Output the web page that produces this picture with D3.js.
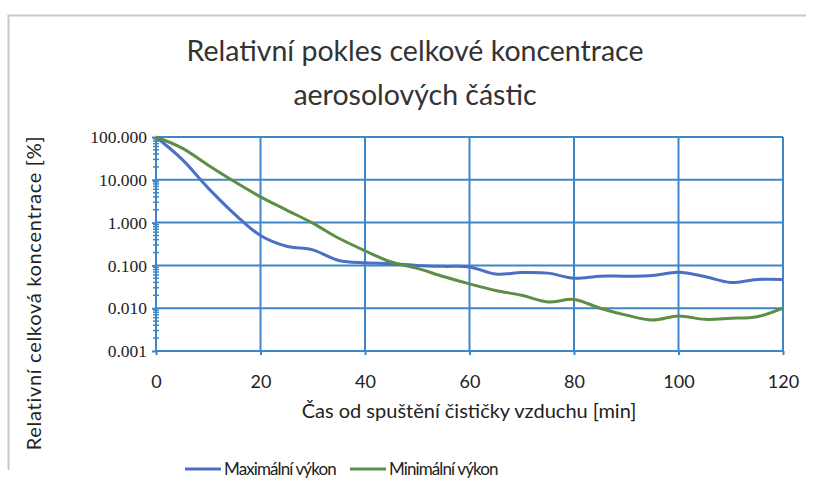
<!DOCTYPE html>
<html>
<head>
<meta charset="utf-8">
<script src="https://cdn.jsdelivr.net/npm/d3@7"></script>
<style>
  body { margin: 0; background: #fff; }
  svg { display: block; }
  .grid line { stroke: #3f86c8; stroke-width: 2; }
  .ytick text { font-family: "Liberation Serif", serif; font-size: 17.5px; fill: #222; }
  .xtick text { font-family: Lato, "Open Sans", sans-serif; font-size: 18px; fill: #222; }
</style>
</head>
<body>
<svg id="chart" width="814" height="492"></svg>
<script>
var times = [0, 5, 10, 15, 20, 25, 30, 35, 40, 45, 50, 55, 60, 65, 70, 75, 80, 85, 90, 95, 100, 105, 110, 115, 120];
var maxPower = [100, 30, 6.4, 1.6, 0.5, 0.28, 0.23, 0.13, 0.115, 0.11, 0.1, 0.095, 0.092, 0.063, 0.068, 0.066, 0.05, 0.056, 0.056, 0.058, 0.069, 0.055, 0.04, 0.047, 0.047];
var minPower = [100, 55, 22, 9.1, 4, 1.96, 0.97, 0.43, 0.22, 0.12, 0.085, 0.055, 0.037, 0.026, 0.02, 0.014, 0.016, 0.01, 0.0069, 0.0053, 0.0066, 0.0055, 0.0058, 0.0063, 0.01];
var xTicks = [0, 20, 40, 60, 80, 100, 120];
var yTicks = [100, 10, 1, 0.1, 0.01, 0.001];
var seriesNames = ["Maximální výkon", "Minimální výkon"];
var seriesColors = ["#4a6fc6", "#5e8d45"];

var svg = d3.select("#chart");

// outer frame, like the cropped excel chart box
svg.append("path")
    .attr("d", "M8.5,470 V15.5 H806")
    .attr("fill", "none")
    .attr("stroke", "#c8c8c8")
    .attr("stroke-width", 2);

var x = d3.scaleLinear().domain([0, 120]).range([156, 783]);
var y = d3.scaleLog().domain([0.001, 100]).range([351, 137]);

var title = ["Relativní pokles celkové koncentrace", "aerosolových částic"];
svg.selectAll(".title").data(title).enter().append("text")
    .attr("x", 415)
    .attr("y", function(d, i) { return 61 + i * 44; })
    .attr("text-anchor", "middle")
    .style("font-family", "Lato, sans-serif")
    .style("font-size", "28.5px")
    .style("fill", "#333")
    .text(function(d) { return d; });

// grid
var grid = svg.append("g").attr("class", "grid");
grid.selectAll(".h").data(yTicks).enter().append("line")
    .attr("x1", x(0)).attr("x2", x(120))
    .attr("y1", function(d) { return y(d); })
    .attr("y2", function(d) { return y(d); });
grid.selectAll(".v").data(xTicks).enter().append("line")
    .attr("y1", y(100)).attr("y2", y(0.001))
    .attr("x1", function(d) { return x(d); })
    .attr("x2", function(d) { return x(d); });

// minor log ticks on the y axis
var minor = [];
yTicks.forEach(function(t) {
  if (t < 100) for (var k = 2; k <= 9; k++) minor.push(t * k);
});
svg.append("g").selectAll("line").data(minor).enter().append("line")
    .attr("x1", x(0) - 3).attr("x2", x(0) + 3)
    .attr("y1", function(d) { return y(d); })
    .attr("y2", function(d) { return y(d); })
    .attr("stroke", "#3f86c8").attr("stroke-width", 1.5);

// y axis
var yAxis = svg.append("g")
    .attr("class", "ytick")
    .attr("transform", "translate(" + x(0) + ",0)")
    .call(d3.axisLeft(y).tickValues(yTicks).tickSize(4).tickPadding(5).tickFormat(d3.format(".3f")));
yAxis.select(".domain").remove();
yAxis.selectAll("line").attr("stroke", "#3f86c8").attr("stroke-width", 2);

// x axis
var xAxis = svg.append("g")
    .attr("class", "xtick")
    .attr("transform", "translate(0," + y(0.001) + ")")
    .call(d3.axisBottom(x).tickValues(xTicks).tickSize(4).tickPadding(20).tickFormat(d3.format("d")));
xAxis.select(".domain").remove();
xAxis.selectAll("line").attr("stroke", "#3f86c8").attr("stroke-width", 2);

// axis titles
svg.append("text")
    .attr("x", 469).attr("y", 418)
    .attr("text-anchor", "middle")
    .style("font-family", "Lato, sans-serif")
    .style("font-size", "20px")
    .style("fill", "#222")
    .text("Čas od spuštění čističky vzduchu [min]");
svg.append("text")
    .attr("transform", "translate(41,293) rotate(-90)")
    .attr("text-anchor", "middle")
    .style("font-family", "Lato, sans-serif")
    .style("font-size", "20px")
    .style("letter-spacing", "0.7px")
    .style("fill", "#222")
    .text("Relativní celková koncentrace [%]");

// series lines
var line = d3.line()
    .x(function(d, i) { return x(times[i]); })
    .y(function(d) { return y(d); })
    .curve(d3.curveCatmullRom);

[maxPower, minPower].forEach(function(s, i) {
  svg.append("path")
      .datum(s)
      .attr("fill", "none")
      .attr("stroke", seriesColors[i])
      .attr("stroke-width", 3)
      .attr("d", line);
});

// legend
var legendX = [185, 350];
seriesNames.forEach(function(n, i) {
  var g = svg.append("g").attr("transform", "translate(" + legendX[i] + ",469)");
  g.append("line").attr("x1", 0).attr("x2", 36)
      .attr("stroke", seriesColors[i]).attr("stroke-width", 3);
  g.append("text").attr("x", 39).attr("y", 6)
      .style("font-family", "Lato, sans-serif")
      .style("font-size", "17px")
      .style("letter-spacing", "-0.9px")
      .style("fill", "#222")
      .text(n);
});
</script>
</body>
</html>
